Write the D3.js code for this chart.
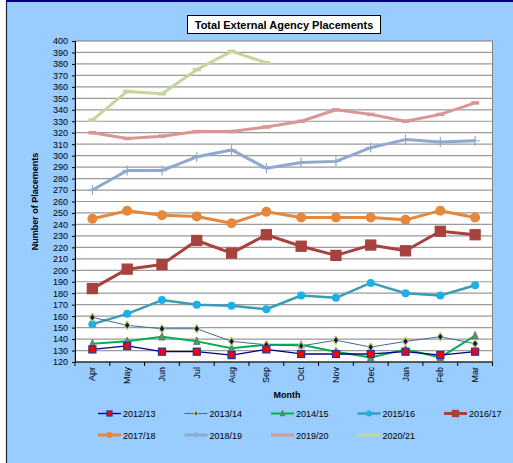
<!DOCTYPE html>
<html>
<head>
<meta charset="utf-8">
<script src="https://cdn.jsdelivr.net/npm/d3@7"></script>
<style>
  body { margin: 0; background: #fff; }
  svg { display: block; font-family: Arial, "Liberation Sans", sans-serif; }
</style>
</head>
<body>
<svg id="chart" width="513" height="463"></svg>
<script>
// months on the x axis
var months = ["Apr", "May", "Jun", "Jul", "Aug", "Sep", "Oct", "Nov", "Dec", "Jan", "Feb", "Mar"];
var yTicks = d3.range(120, 401, 10);

var years = ["2012/13", "2013/14", "2014/15", "2015/16", "2016/17", "2017/18", "2018/19", "2019/20", "2020/21"];

var v1213 = [131, 134, 129, 129, 126, 131, 127, 127, 127, 129, 126, 129];
var v1314 = [159, 152, 149, 149, 138, 135, 134, 139, 133, 138, 142, 136];
var v1415 = [136, 138, 142, 138, 132, 135, 135, 129, 124, 131, 124, 143];
var v1516 = [153, 162, 174, 170, 169, 166, 178, 176, 189, 180, 178, 187];
var v1617 = [184, 201, 205, 226, 215, 231, 221, 213, 222, 217, 234, 231];
var v1718 = [245, 252, 248, 247, 241, 251, 246, 246, 246, 244, 252, 246];
var v1819 = [270, 287, 287, 299, 305, 289, 294, 295, 307, 314, 312, 313];
var v1920 = [320, 315, 317, 321, 321, 325, 330, 340, 336, 330, 336, 346];
var v2021 = [331, 356, 354, 375, 391, 381];

var values = [v1213, v1314, v1415, v1516, v1617, v1718, v1819, v1920, v2021];

// look of each series
var styles = [
    {line: "#000080", width: 1.3, marker: "square", size: 7, fill: "#ff0000", stroke: "#333399"},
    {line: "#3f6a9a", width: 1, marker: "diamond", size: 6, fill: "#001a66", stroke: "#c8c860"},
    {line: "#00b050", width: 2, marker: "triangle", size: 6.5, fill: "#5f8f70", stroke: "#4c7a5c"},
    {line: "#3c9cb6", width: 2.5, marker: "circle", size: 4, fill: "#1ab0e8", stroke: "#1ab0e8"},
    {line: "#a8423f", width: 3, marker: "square", size: 10, fill: "#a8423f", stroke: "#a8423f"},
    {line: "#e4883c", width: 3, marker: "circle", size: 5, fill: "#e4883c", stroke: "#e4883c"},
    {line: "#8ea8d0", width: 3, marker: "plus", size: 5, fill: "none", stroke: "#8ea8d0"},
    {line: "#da9694", width: 3, marker: "dash", size: 4, fill: "none", stroke: "#da9694"},
    {line: "#c4d79b", width: 3, marker: "dash", size: 4, fill: "none", stroke: "#c4d79b"}
];

var svg = d3.select("#chart");
var W = 513, H = 463;
var margin = {top: 41, right: 20.5, bottom: 101, left: 75};

// background + frame
svg.append("rect").attr("x", 6.5).attr("y", 1).attr("width", W).attr("height", H)
    .attr("fill", "#99ccff").attr("stroke", "#202040").attr("stroke-width", 1.2);
svg.append("line").attr("x1", 6).attr("x2", W).attr("y1", 1).attr("y2", 1)
    .attr("stroke", "#000080").attr("stroke-width", 2);

var x = d3.scaleBand().domain(months).range([margin.left, W - margin.right]).padding(0);
var y = d3.scaleLinear().domain([120, 400]).range([H - margin.bottom, margin.top]);
var cx = function(m) { return x(m) + x.bandwidth() / 2; };

// plot area
svg.append("rect")
    .attr("x", margin.left).attr("y", margin.top)
    .attr("width", W - margin.right - margin.left)
    .attr("height", H - margin.bottom - margin.top)
    .attr("fill", "#fff").attr("stroke", "#808080").attr("stroke-width", 1);

svg.append("g").selectAll("line")
    .data(yTicks.slice(1, -1))
    .enter().append("line")
    .attr("x1", margin.left).attr("x2", W - margin.right)
    .attr("y1", function(d) { return y(d); }).attr("y2", function(d) { return y(d); })
    .attr("stroke", "#9a9a9a").attr("stroke-width", 1.2);

// y axis
var yAxis = d3.axisLeft(y).tickValues(yTicks).tickSize(3).tickPadding(4);
var gy = svg.append("g").attr("transform", "translate(" + margin.left + ",0)").call(yAxis);
gy.select(".domain").attr("stroke", "#000");
gy.selectAll("text").attr("font-size", 9).attr("fill", "#000").attr("font-family", "Arial, Liberation Sans");

// x axis, ticks between categories like Excel
var gx = svg.append("g").attr("transform", "translate(0," + (H - margin.bottom) + ")");
gx.append("line").attr("x1", margin.left).attr("x2", W - margin.right)
    .attr("stroke", "#000").attr("stroke-width", 1.2);
var bounds = months.map(function(m) { return x(m); }).concat([x(months[months.length - 1]) + x.bandwidth()]);
gx.selectAll("line.tk").data(bounds).enter().append("line").attr("class", "tk")
    .attr("x1", function(d) { return d; }).attr("x2", function(d) { return d; })
    .attr("y1", 0).attr("y2", 4).attr("stroke", "#000");
gx.selectAll("text").data(months).enter().append("text")
    .attr("transform", function(d) { return "translate(" + (cx(d) + 3) + ",5) rotate(-90)"; })
    .attr("text-anchor", "end")
    .attr("font-size", 9).text(function(d) { return d; });

// titles
svg.append("rect").attr("x", 187.5).attr("y", 15.5).attr("width", 193).attr("height", 18)
    .attr("fill", "#fff").attr("stroke", "#000").attr("stroke-width", 1);
svg.append("text").attr("x", 284).attr("y", 28.5).attr("text-anchor", "middle")
    .attr("font-size", 11).attr("font-weight", "bold").text("Total External Agency Placements");
svg.append("text").attr("x", 287).attr("y", 397.5).attr("text-anchor", "middle")
    .attr("font-size", 9).attr("font-weight", "bold").text("Month");
svg.append("text").attr("transform", "translate(38," + y(260) + ") rotate(-90)")
    .attr("text-anchor", "middle")
    .attr("font-size", 9).attr("font-weight", "bold").text("Number of Placements");

function drawMarker(g, st, px, py) {
    var s = st.size;
    if (st.marker === "square") {
        g.append("rect").attr("x", px - s / 2).attr("y", py - s / 2).attr("width", s).attr("height", s)
            .attr("fill", st.fill).attr("stroke", st.stroke).attr("stroke-width", 1.3);
    } else if (st.marker === "circle") {
        g.append("circle").attr("cx", px).attr("cy", py).attr("r", s).attr("fill", st.fill);
    } else if (st.marker === "diamond") {
        g.append("path").attr("d", "M" + px + "," + (py - s / 2 - 1) + "L" + (px + s / 2) + "," + py +
            "L" + px + "," + (py + s / 2 + 1) + "L" + (px - s / 2) + "," + py + "Z")
            .attr("fill", st.fill).attr("stroke", st.stroke).attr("stroke-width", 1.2);
    } else if (st.marker === "triangle") {
        g.append("path").attr("d", "M" + px + "," + (py - s / 2 - 1) + "L" + (px + s / 2) + "," + (py + s / 2) +
            "L" + (px - s / 2) + "," + (py + s / 2) + "Z")
            .attr("fill", st.fill).attr("stroke", st.stroke).attr("stroke-width", 0.8);
    } else if (st.marker === "plus") {
        g.append("path").attr("d", "M" + (px - s) + "," + py + "H" + (px + s) + "M" + px + "," + (py - s) + "V" + (py + s))
            .attr("stroke", st.stroke).attr("stroke-width", 1.2);
    } else if (st.marker === "dash") {
        g.append("path").attr("d", "M" + (px - s) + "," + py + "H" + (px + s))
            .attr("stroke", st.stroke).attr("stroke-width", 3.5);
    }
}

var line = d3.line()
    .x(function(d, i) { return cx(months[i]); })
    .y(function(d) { return y(d); });

// draw from last series to first so the older years sit on top
for (var k = values.length - 1; k >= 0; k--) {
    var st = styles[k];
    var g = svg.append("g");
    g.append("path").datum(values[k]).attr("d", line)
        .attr("fill", "none").attr("stroke", st.line).attr("stroke-width", st.width)
        .attr("stroke-linejoin", "round");
    values[k].forEach(function(v, i) { drawMarker(g, st, cx(months[i]), y(v)); });
}

// legend
var legX = d3.scalePoint().domain(d3.range(5)).range([98, 444]);
years.forEach(function(yr, k) {
    var col = k % 5, row = Math.floor(k / 5);
    var lx = legX(col), ly = 413.5 + row * 21.5;
    var g = svg.append("g");
    var st = styles[k];
    g.append("line").attr("x1", lx).attr("x2", lx + 23).attr("y1", ly).attr("y2", ly)
        .attr("stroke", st.line).attr("stroke-width", st.width);
    var ms = Object.assign({}, st);
    if (st.marker === "square") ms.size = st.size > 8 ? 6 : 5;
    if (st.marker === "circle") ms.size = 3;
    if (st.marker === "diamond") ms.size = 3.5;
    if (st.marker === "triangle") ms.size = 4.5;
    if (st.marker === "plus") ms.size = 3;
    if (st.marker !== "dash") drawMarker(g, ms, lx + 11.5, ly);
    g.append("text").attr("x", lx + 25).attr("y", ly + 3.5).attr("font-size", 9).text(yr);
});
</script>
</body>
</html>
